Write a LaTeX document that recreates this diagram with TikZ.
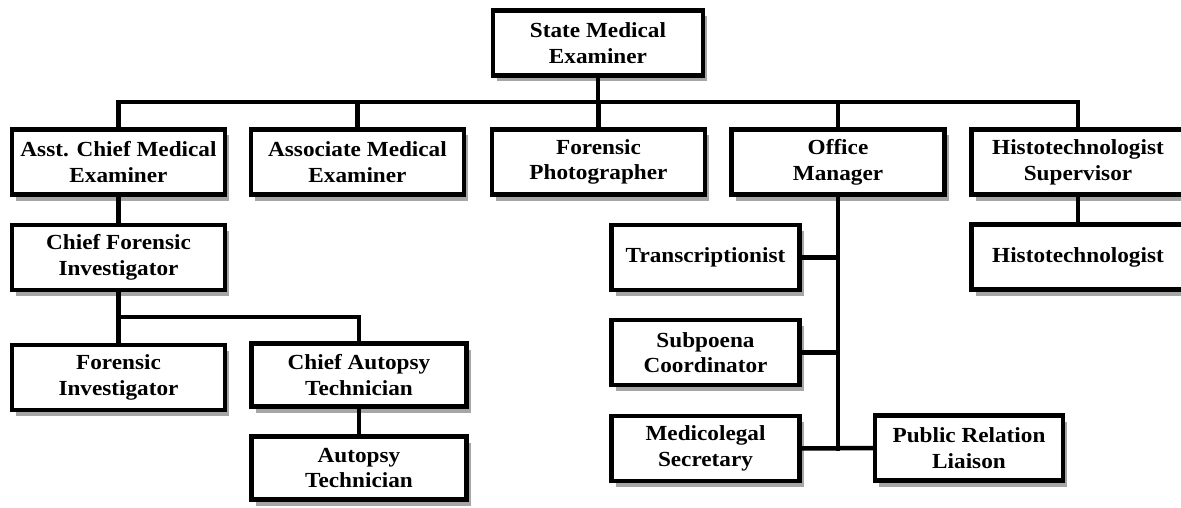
\documentclass[tikz,border=0pt]{standalone}
\usepackage{fontspec}
\setmainfont{Liberation Serif}[FakeStretch=1.08]
\usetikzlibrary{shadows}

\begin{document}
\begin{tikzpicture}[x=1pt, y=-1pt, line width=4.5pt,
          font=\bfseries\fontsize{21.5}{25.7}\selectfont,
          box/.style={draw, fill=white, align=center, inner sep=2pt, minimum width=213pt, minimum height=65pt,
            drop shadow={shadow xshift=4pt, shadow yshift=-6pt, fill=black!35, opacity=1}},
          sub/.style={box, minimum width=188pt},
          narrow/.style={box, minimum width=215pt, minimum height=63pt},
          link/.style={line cap=rect}]
        \useasboundingbox (0,0) rectangle (1181,508);
        \clip (0,0) rectangle (1181,508);
        \node[box, minimum width=210pt] (sme) at (598,43) {State Medical\\ Examiner};
        \node[box] (acme) at (118.5,162) {Asst. Chief Medical\\ Examiner};
        \node[box] (ame) at (357.5,162) {Associate Medical\\ Examiner};
        \node[box] (fp) at (598.5,162) {Forensic\\ Photographer};
        \node[box] (om) at (838,162) {Office\\ Manager};
        \node[box] (hs) at (1078,162) {Histotechnologist\\ Supervisor};
        \node[box] (cfi) at (118.5,257.5) {Chief Forensic\\ Investigator};
        \node[box] (ht) at (1078,257) {Histotechnologist};
        \node[box] (fi) at (118.5,377.5) {Forensic\\ Investigator};
        \node[narrow] (cat) at (359,375) {Chief Autopsy\\ Technician};
        \node[narrow] (at) at (359,468) {Autopsy\\ Technician};
        \node[sub] (tr) at (705.5,257.5) {Transcriptionist};
        \node[sub] (sc) at (705.5,352.5) {Subpoena\\ Coordinator};
        \node[sub] (ms) at (705.5,448.5) {Medicolegal\\ Secretary};
        \node[sub] (prl) at (969,448) {Public Relation\\ Liaison};
        \coordinate (bus) at (598,102);
        \coordinate (fork) at (118.5,317);
        \draw[link] (sme.south) -- (sme.south |- bus);
        \draw[link] (acme.north) |- (bus) -| (hs.north);
        \draw[link] (ame.north) -- (ame.north |- bus);
        \draw[link] (fp.north) -- (fp.north |- bus);
        \draw[link] (om.north) -- (om.north |- bus);
        \draw[link] (acme.south) -- (cfi.north);
        \draw[link] (cfi.south) -- (fi.north);
        \draw[link] (fork) -| (cat.north);
        \draw[link] (cat.south) -- (at.north);
        \draw[link] (hs.south) -- (ht.north);
        \draw[link] (om.south) -- (om.south |- ms.east);
        \draw[link] (tr.east) -- (tr.east -| om.south);
        \draw[link] (sc.east) -- (sc.east -| om.south);
        \draw[link] (ms.east) -- (prl.west);
      \end{tikzpicture}
\end{document}
